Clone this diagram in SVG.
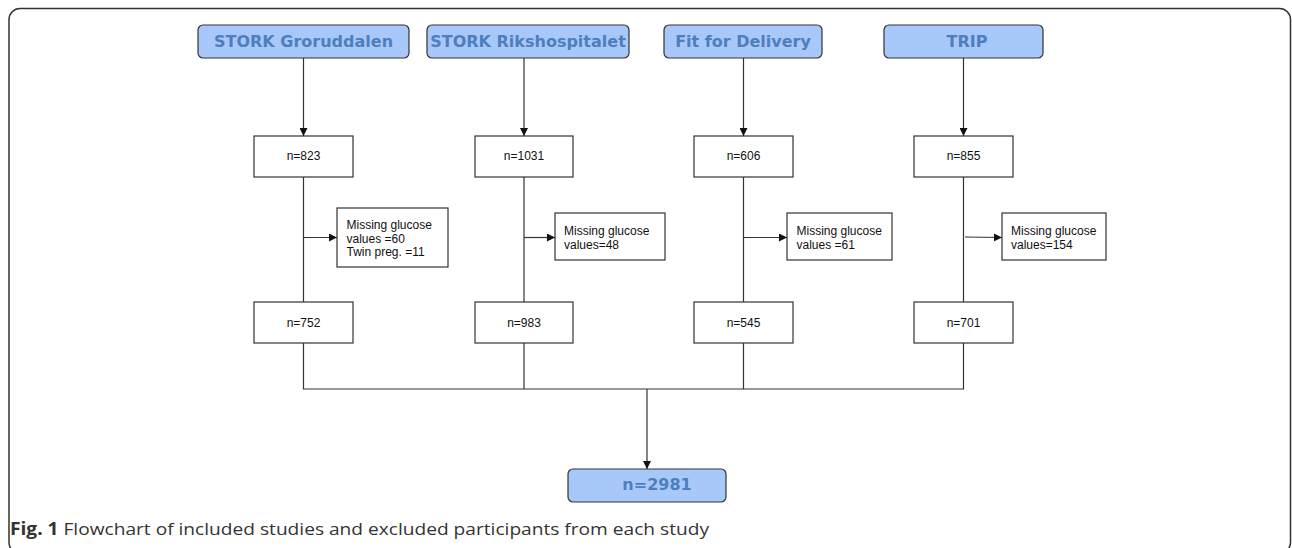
<svg xmlns="http://www.w3.org/2000/svg" width="1292" height="548" viewBox="0 0 1292 548">
<style>
.frame{fill:none;stroke:#333;stroke-width:1.5}
.study{fill:#a8c8fa;stroke:#333;stroke-width:1.2}
.stxt{font-family:"DejaVu Sans",sans-serif;font-weight:bold;font-size:16px;fill:#4d7fbe;text-anchor:middle}
.box{fill:#fff;stroke:#333;stroke-width:1.2}
.ntxt{font-family:"Liberation Sans",Arial,sans-serif;font-size:12px;fill:#111;text-anchor:middle}
.mtxt{font-family:"Liberation Sans",Arial,sans-serif;font-size:12px;fill:#111}
.ln{fill:none;stroke:#333;stroke-width:1.2}
.cap{font-family:"Open Sans",sans-serif;font-size:17px;fill:#333}
</style>
<defs>
<marker id="ah" viewBox="0 0 10 10" refX="10" refY="5" markerWidth="8" markerHeight="8" markerUnits="userSpaceOnUse" orient="auto">
<path d="M0,0 L10,5 L0,10 z" fill="#111"/>
</marker>
</defs>
<rect class="frame" x="9" y="8.5" width="1281.5" height="545" rx="11"/>

<g id="connectors">
<line class="ln" x1="303.5" y1="58" x2="303.5" y2="136" marker-end="url(#ah)"/>
<line class="ln" x1="524" y1="58" x2="524" y2="136" marker-end="url(#ah)"/>
<line class="ln" x1="743.5" y1="58" x2="743.5" y2="136" marker-end="url(#ah)"/>
<line class="ln" x1="963.5" y1="58" x2="963.5" y2="136" marker-end="url(#ah)"/>
<line class="ln" x1="303.5" y1="177" x2="303.5" y2="302"/>
<line class="ln" x1="524" y1="177" x2="524" y2="302"/>
<line class="ln" x1="743.5" y1="177" x2="743.5" y2="302"/>
<line class="ln" x1="963.5" y1="177" x2="963.5" y2="302"/>
<line class="ln" x1="303.5" y1="237.5" x2="337" y2="237.5" marker-end="url(#ah)"/>
<line class="ln" x1="524" y1="237.5" x2="555" y2="237.5" marker-end="url(#ah)"/>
<line class="ln" x1="743.5" y1="237.5" x2="787" y2="237.5" marker-end="url(#ah)"/>
<line class="ln" x1="965" y1="237" x2="1002" y2="237.5" marker-end="url(#ah)"/>
<path class="ln" d="M303.5,343 V389 H963.5 V343 M524,343 V389 M743.5,343 V389"/>
<line class="ln" x1="647" y1="389" x2="647" y2="469" marker-end="url(#ah)"/>
</g>

<g id="study-groruddalen">
<rect class="study" x="198" y="25" width="211" height="33" rx="5"/>
<text class="stxt" x="303.5" y="46.5">STORK Groruddalen</text>
</g>
<g id="study-rikshospitalet">
<rect class="study" x="427" y="25" width="202" height="33" rx="5"/>
<text class="stxt" x="528" y="46.5">STORK Rikshospitalet</text>
</g>
<g id="study-fit">
<rect class="study" x="664" y="25" width="158" height="33" rx="5"/>
<text class="stxt" x="743" y="46.5">Fit for Delivery</text>
</g>
<g id="study-trip">
<rect class="study" x="884" y="25" width="159" height="33" rx="5"/>
<text class="stxt" x="967" y="46.5">TRIP</text>
</g>

<g id="n823">
<rect class="box" x="254" y="136" width="99" height="41"/>
<text class="ntxt" x="303.5" y="160">n=823</text>
</g>
<g id="n1031">
<rect class="box" x="475" y="136" width="98" height="41"/>
<text class="ntxt" x="524" y="160">n=1031</text>
</g>
<g id="n606">
<rect class="box" x="694" y="136" width="99" height="41"/>
<text class="ntxt" x="743.5" y="160">n=606</text>
</g>
<g id="n855">
<rect class="box" x="914" y="136" width="99" height="41"/>
<text class="ntxt" x="963.5" y="160">n=855</text>
</g>

<g id="excl-groruddalen">
<rect class="box" x="337" y="208" width="111" height="59"/>
<text class="mtxt" x="346.5" y="229">Missing glucose</text>
<text class="mtxt" x="346.5" y="242.5">values =60</text>
<text class="mtxt" x="346.5" y="256">Twin preg. =11</text>
</g>
<g id="excl-rikshospitalet">
<rect class="box" x="555" y="213" width="110" height="47"/>
<text class="mtxt" x="564" y="235">Missing glucose</text>
<text class="mtxt" x="564" y="248.5">values=48</text>
</g>
<g id="excl-fit">
<rect class="box" x="787" y="213" width="105" height="47"/>
<text class="mtxt" x="796.5" y="235">Missing glucose</text>
<text class="mtxt" x="796.5" y="248.5">values =61</text>
</g>
<g id="excl-trip">
<rect class="box" x="1002" y="213" width="104" height="47"/>
<text class="mtxt" x="1011" y="235">Missing glucose</text>
<text class="mtxt" x="1011" y="248.5">values=154</text>
</g>

<g id="n752">
<rect class="box" x="254" y="302" width="99" height="41"/>
<text class="ntxt" x="303.5" y="326.5">n=752</text>
</g>
<g id="n983">
<rect class="box" x="475" y="302" width="98" height="41"/>
<text class="ntxt" x="524" y="326.5">n=983</text>
</g>
<g id="n545">
<rect class="box" x="694" y="302" width="99" height="41"/>
<text class="ntxt" x="743.5" y="326.5">n=545</text>
</g>
<g id="n701">
<rect class="box" x="914" y="302" width="99" height="41"/>
<text class="ntxt" x="963.5" y="326.5">n=701</text>
</g>

<g id="total">
<rect class="study" x="568" y="469" width="158" height="33" rx="5"/>
<text class="stxt" x="657" y="490">n=2981</text>
</g>

<text class="cap" x="10" y="535" textLength="699" lengthAdjust="spacingAndGlyphs"><tspan font-weight="bold">Fig. 1</tspan> Flowchart of included studies and excluded participants from each study</text>
</svg>
